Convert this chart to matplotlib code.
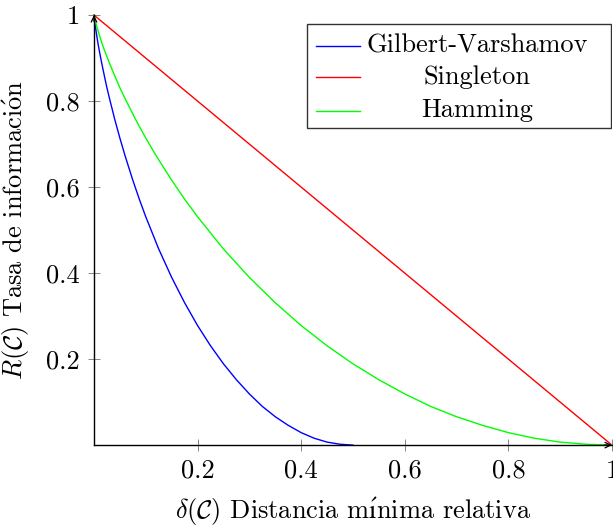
import matplotlib
matplotlib.use("Agg")
import matplotlib.pyplot as plt

plt.rcParams['font.family'] = ['cmr10', 'DejaVu Serif']
plt.rcParams['mathtext.fontset'] = 'cm'
plt.rcParams['axes.formatter.use_mathtext'] = True

# Gilbert-Varshamov bound
gv_delta = [0, 0.001, 0.0025, 0.005, 0.0075, 0.01, 0.015, 0.02, 0.025, 0.03, 0.04,
            0.05, 0.06, 0.075, 0.0875, 0.1, 0.125, 0.15, 0.175, 0.2, 0.225, 0.25,
            0.275, 0.3, 0.325, 0.35, 0.375, 0.4, 0.425, 0.45, 0.475, 0.5]
gv_rate = [1, 0.989, 0.975, 0.955, 0.936, 0.919, 0.888, 0.859, 0.831, 0.806, 0.758,
           0.714, 0.673, 0.616, 0.572, 0.531, 0.456, 0.390, 0.331, 0.278, 0.231, 0.189,
           0.152, 0.119, 0.090, 0.066, 0.046, 0.029, 0.016, 0.007, 0.002, 0]

# Singleton bound
sg_delta = [0, 1]
sg_rate = [1, 0]

# Hamming bound
hm_delta = [0, 0.002, 0.005, 0.01, 0.015, 0.02, 0.03, 0.04, 0.05, 0.06, 0.08,
            0.1, 0.12, 0.15, 0.175, 0.2, 0.25, 0.3, 0.35, 0.4, 0.45, 0.5,
            0.55, 0.6, 0.65, 0.7, 0.75, 0.8, 0.85, 0.9, 0.95, 1.0]
hm_rate = [1, 0.989, 0.975, 0.955, 0.936, 0.919, 0.888, 0.859, 0.831, 0.806, 0.758,
           0.714, 0.673, 0.616, 0.572, 0.531, 0.456, 0.390, 0.331, 0.278, 0.231, 0.189,
           0.152, 0.119, 0.090, 0.066, 0.046, 0.029, 0.016, 0.007, 0.002, 0]

series = [
    (gv_delta, gv_rate, 'Gilbert-Varshamov', '#0000ff'),
    (sg_delta, sg_rate, 'Singleton', '#ff0000'),
    (hm_delta, hm_rate, 'Hamming', '#00ff00'),
]

xticks = [0.2, 0.4, 0.6, 0.8, 1]
xticklabels = ['0.2', '0.4', '0.6', '0.8', '1']
yticks = [0.2, 0.4, 0.6, 0.8, 1]
yticklabels = ['0.2', '0.4', '0.6', '0.8', '1']

fs = 19

fig = plt.figure(figsize=(6.13, 5.28), dpi=100)
ax = fig.add_axes([0.1533, 0.157, 0.845, 0.8144])

for d, r, lab, col in series:
    ax.plot(d, r, color=col, lw=1.0, clip_on=False)

ax.set_xlim(0, 1)
ax.set_ylim(0, 1)
ax.spines['top'].set_visible(False)
ax.spines['right'].set_visible(False)
for s in ['left', 'bottom']:
    ax.spines[s].set_linewidth(1.0)

ax.set_xticks(xticks)
ax.set_xticklabels(xticklabels)
ax.set_yticks(yticks)
ax.set_yticklabels(yticklabels)
ax.tick_params(direction='inout', length=8, width=0.6, color='0.45',
               labelsize=fs, pad=6)

# axis arrows
ax.annotate('', xy=(1.0, 0), xytext=(0.985, 0), xycoords='axes fraction',
            arrowprops=dict(arrowstyle='->', lw=0.9, color='k', shrinkA=0, shrinkB=0))
ax.annotate('', xy=(0, 1.0), xytext=(0, 0.985), xycoords='axes fraction',
            arrowprops=dict(arrowstyle='->', lw=0.9, color='k', shrinkA=0, shrinkB=0))

ax.set_xlabel(r'$\delta(\mathcal{C})$ Distancia m$\mathrm{\acute{ı}}$nima relativa',
              fontsize=fs, labelpad=9)
ax.set_ylabel(r'$R(\mathcal{C})$ Tasa de informaci$\mathrm{\acute{o}}$n',
              fontsize=fs, labelpad=10)

# legend drawn by hand so the labels can be centred
box = plt.Rectangle((0.411, 0.737), 0.587, 0.242, transform=ax.transAxes,
                    facecolor='white', edgecolor='0.2', lw=1.0, zorder=5)
ax.add_patch(box)
rows = [0.928, 0.855, 0.778]
for (d, r, lab, col), yy in zip(series, rows):
    ax.plot([0.429, 0.514], [yy, yy], color=col, lw=1.0, transform=ax.transAxes, zorder=6)
    ax.text(0.739, yy, lab, transform=ax.transAxes, fontsize=fs, ha='center',
            va='center', zorder=6)

fig.savefig('out.png', dpi=100)
